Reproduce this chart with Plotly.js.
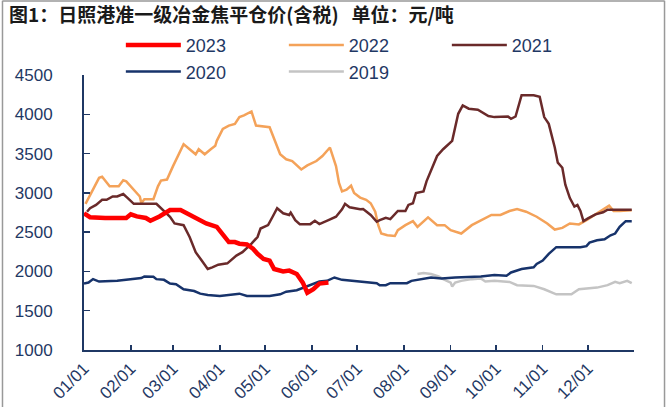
<!DOCTYPE html>
<html>
<head>
<meta charset="utf-8">
<script src="https://cdn.plot.ly/plotly-3.0.1.min.js"></script>
<style>html,body{margin:0;padding:0;background:#fff;}#chart{width:669px;height:407px;}</style>
</head>
<body>
<div id="chart"></div>
<script>
// ---- data (month-day within the year, price in 元/吨) ----
const dates2023 = ['01-01','01-05','01-15','01-29','02-01','02-05','02-11','02-14','02-20','02-27','03-06','03-12','03-23','03-30','04-03','04-07','04-11','04-14','04-19','04-23','04-26','04-30','05-04','05-07','05-13','05-17','05-22','05-26','05-29','06-02','06-06','06-12'];
const values2023 = [2740,2690,2680,2680,2727,2700,2680,2645,2700,2782,2782,2718,2611,2567,2480,2374,2374,2353,2344,2289,2224,2160,2138,2031,2000,2010,1967,1858,1729,1773,1845,1858];

const dates2022 = ['01-02','01-11','01-13','01-16','01-18','01-24','01-27','01-29','02-03','02-07','02-08','02-10','02-16','02-19','02-21','02-25','03-01','03-08','03-12','03-16','03-18','03-22','03-26','03-29','03-30','04-03','04-07','04-11','04-14','04-17','04-22','04-25','05-04','05-07','05-11','05-15','05-19','05-25','05-29','06-04','06-08','06-13','06-15','06-17','06-19','06-21','06-24','06-27','06-29','07-03','07-07','07-10','07-13','07-15','07-17','07-21','07-26','07-28','08-02','08-07','08-10','08-17','08-23','08-28','09-01','09-08','09-15','09-21','09-28','10-04','10-10','10-15','10-21','10-28','11-04','11-09','11-14','11-19','11-25','11-30','12-07','12-13','12-15','12-18','12-22','12-30'];
const values2022 = [2860,3191,3204,3126,3083,3083,3160,3147,3040,2954,2869,2920,2920,3083,3156,3169,3340,3620,3555,3491,3555,3491,3555,3598,3662,3813,3856,3878,3964,3985,4036,3856,3835,3684,3491,3427,3405,3298,3349,3405,3469,3577,3469,3340,3126,3018,3040,3091,2998,2940,2911,2868,2760,2589,2482,2460,2451,2525,2589,2640,2567,2688,2589,2589,2525,2482,2589,2653,2718,2718,2769,2795,2760,2696,2611,2533,2554,2611,2598,2653,2740,2804,2838,2769,2769,2780];

const dates2021 = ['01-03','01-05','01-09','01-13','01-16','01-20','01-23','01-27','01-30','02-03','02-18','02-21','02-27','03-02','03-08','03-12','03-16','03-20','03-24','03-27','03-31','04-03','04-06','04-12','04-16','04-22','04-26','04-28','05-03','05-06','05-09','05-13','05-17','05-18','05-21','05-24','05-31','06-03','06-06','06-12','06-17','06-21','06-23','06-26','07-03','07-05','07-10','07-14','07-16','07-20','07-23','07-28','08-02','08-04','08-07','08-09','08-14','08-16','08-18','08-23','08-27','09-02','09-04','09-06','09-09','09-13','09-19','09-26','09-30','10-09','10-11','10-14','10-18','10-26','10-30','11-02','11-05','11-09','11-11','11-14','11-16','11-19','11-22','11-24','11-26','11-28','12-01','12-06','12-11','12-14','12-30'];
const values2021 = [2760,2804,2847,2911,2911,2954,2954,2985,2933,2860,2860,2804,2696,2611,2589,2438,2245,2138,2031,2052,2086,2095,2103,2202,2245,2353,2438,2546,2589,2696,2804,2740,2718,2748,2653,2602,2602,2644,2602,2653,2696,2791,2860,2817,2791,2795,2718,2632,2653,2683,2666,2769,2769,2847,2868,2998,3018,3147,3233,3469,3555,3662,3835,4006,4113,4071,4058,3977,3964,3972,3942,3972,4242,4242,4222,3964,3878,3577,3384,3320,3104,2933,2825,2847,2769,2640,2675,2727,2753,2786,2786];

const dates2020 = ['01-01','01-04','01-07','01-11','01-23','02-01','02-08','02-10','02-16','02-18','02-23','02-27','03-03','03-08','03-15','03-19','03-24','04-01','04-14','04-19','05-04','05-11','05-15','05-22','05-27','06-01','06-06','06-11','06-16','06-21','06-28','07-06','07-14','07-16','07-20','07-23','08-03','08-06','08-10','08-15','08-19','08-26','09-04','09-21','09-30','10-08','10-11','10-18','10-26','10-28','11-01','11-05','11-07','11-10','11-26','11-30','12-02','12-07','12-12','12-16','12-19','12-22','12-26','12-30'];
const values2020 = [1845,1858,1902,1871,1880,1902,1915,1936,1932,1902,1893,1845,1838,1773,1751,1717,1700,1687,1717,1687,1687,1709,1742,1760,1794,1838,1871,1880,1923,1893,1880,1858,1850,1825,1825,1850,1850,1880,1893,1902,1923,1910,1923,1936,1953,1945,1987,2031,2052,2095,2138,2224,2254,2309,2309,2322,2366,2396,2409,2460,2482,2567,2640,2640];

const dates2019 = ['08-10','08-14','08-19','08-24','08-27','09-01','09-02','09-04','09-08','09-15','09-21','09-24','09-30','10-10','10-15','10-26','11-02','11-10','11-20','11-25','12-07','12-14','12-19','12-22','12-27','12-30'];
const values2019 = [1967,1980,1967,1936,1902,1858,1807,1858,1880,1902,1910,1871,1880,1867,1825,1816,1773,1709,1709,1773,1794,1825,1867,1850,1880,1850];

const yTicks = [1000,1500,2000,2500,3000,3500,4000,4500];
const titleText = '图1：日照港准一级冶金焦平仓价(含税)\u00a0\u00a0\u00a0单位：元/吨';

// ---- chart ----
const BASE_YEAR = '2021-';
const toX = arr => arr.map(d => BASE_YEAR + d);
const navy = '#1F3864';

function mk(name, dates, values, color, width, rank) {
  return {
    type: 'scatter', mode: 'lines', name: name,
    x: toX(dates), y: values,
    line: {color: color, width: width, shape: 'linear'},
    legendrank: rank, hoverinfo: 'skip'
  };
}

const traces = [
  mk('2019', dates2019, values2019, '#C4C4C4', 2.5, 5),
  mk('2020', dates2020, values2020, '#17336B', 2.5, 4),
  mk('2022', dates2022, values2022, '#F4A259', 2.5, 2),
  mk('2021', dates2021, values2021, '#6A2A2A', 2.5, 3),
  mk('2023', dates2023, values2023, '#FF0000', 4.5, 1)
];

const layout = {
  width: 669, height: 407,
  margin: {l: 84, r: 35, t: 75, b: 57, pad: 0},
  paper_bgcolor: '#ffffff', plot_bgcolor: '#ffffff',
  font: {family: 'Liberation Sans, Arial, sans-serif', color: navy},
  title: {
    text: '<b>' + titleText + '</b>',
    x: 9/669, xref: 'container', xanchor: 'left',
    y: 1 - 15/407, yref: 'container', yanchor: 'middle',
    font: {family: 'Noto Sans CJK SC, sans-serif', size: 19, color: '#1a1a1a'}
  },
  showlegend: true,
  legend: {
    orientation: 'h', x: 0.067, xanchor: 'left', y: 1.175, yanchor: 'top',
    font: {size: 18, color: navy},
    itemwidth: 55, entrywidth: 93, entrywidthmode: 'pixels',
    bgcolor: 'rgba(0,0,0,0)', traceorder: 'normal'
  },
  xaxis: {
    type: 'date', range: ['2021-01-01', '2021-12-31 12:00'],
    tick0: '2021-01-01', dtick: 'M1', tickformat: '%m/%d', tickangle: -45,
    ticks: 'inside', ticklen: 5, tickwidth: 1.5, tickcolor: navy,
    showline: true, linecolor: navy, linewidth: 2,
    showgrid: false, zeroline: false,
    tickfont: {size: 17, color: navy}
  },
  yaxis: {
    range: [1000, 4500], tickvals: yTicks,
    ticks: 'inside', ticklen: 6, tickwidth: 1.5, tickcolor: navy,
    showline: true, linecolor: navy, linewidth: 2,
    showgrid: false, zeroline: false,
    ticklabelstandoff: 26,
    tickfont: {size: 17, color: navy}
  },
  shapes: [
    {type: 'line', xref: 'paper', yref: 'paper', x0: -0.1482, x1: -0.1482, y0: -0.25, y1: 1.27, line: {color: '#999999', width: 1.5}},
    {type: 'line', xref: 'paper', yref: 'paper', x0: 1.0555, x1: 1.0555, y0: -0.25, y1: 1.27, line: {color: '#999999', width: 1.5}},
    {type: 'line', xref: 'paper', yref: 'paper', x0: -0.1482, x1: 1.0555, y0: 1.2691, y1: 1.2691, line: {color: '#999999', width: 1.5}}
  ]
};

Plotly.newPlot('chart', traces, layout, {displayModeBar: false, staticPlot: true});
</script>
</body>
</html>
